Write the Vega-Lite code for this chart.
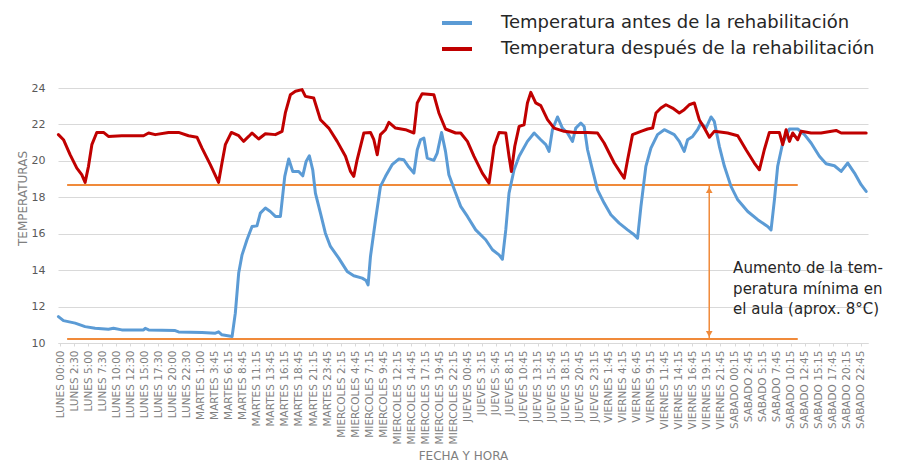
{
  "$schema": "https://vega.github.io/schema/vega-lite/v6.json",
  "width": 810,
  "height": 255,
  "autosize": {"type": "none"},
  "padding": {"left": 58, "top": 88, "right": 35, "bottom": 125},
  "background": "white",
  "config": {"view": {"stroke": null}, "font": "DejaVu Sans"},
  "datasets": {
    "antes": [
      {"pos": -0.12, "temp": 11.45}, {"pos": 0.24, "temp": 11.23}, {"pos": 1.07, "temp": 11.09}, {"pos": 1.78, "temp": 10.9},
      {"pos": 2.49, "temp": 10.81}, {"pos": 3.44, "temp": 10.76}, {"pos": 3.8, "temp": 10.81}, {"pos": 4.39, "temp": 10.72},
      {"pos": 5.94, "temp": 10.72}, {"pos": 6.06, "temp": 10.81}, {"pos": 6.3, "temp": 10.72}, {"pos": 8.19, "temp": 10.68},
      {"pos": 8.43, "temp": 10.61}, {"pos": 10.1, "temp": 10.57}, {"pos": 11.05, "temp": 10.54}, {"pos": 11.28, "temp": 10.61},
      {"pos": 11.52, "temp": 10.45}, {"pos": 12.24, "temp": 10.36}, {"pos": 12.47, "temp": 11.64}, {"pos": 12.71, "temp": 13.84},
      {"pos": 12.95, "temp": 14.84}, {"pos": 13.3, "temp": 15.67}, {"pos": 13.66, "temp": 16.4}, {"pos": 14.01, "temp": 16.43},
      {"pos": 14.25, "temp": 17.13}, {"pos": 14.61, "temp": 17.41}, {"pos": 14.96, "temp": 17.22}, {"pos": 15.32, "temp": 16.95},
      {"pos": 15.68, "temp": 16.95}, {"pos": 15.99, "temp": 19.15}, {"pos": 16.27, "temp": 20.1}, {"pos": 16.56, "temp": 19.42},
      {"pos": 16.98, "temp": 19.42}, {"pos": 17.27, "temp": 19.18}, {"pos": 17.51, "temp": 19.97}, {"pos": 17.74, "temp": 20.28},
      {"pos": 17.98, "temp": 19.51}, {"pos": 18.17, "temp": 18.23}, {"pos": 18.53, "temp": 17.13}, {"pos": 18.88, "temp": 16.03},
      {"pos": 19.24, "temp": 15.3}, {"pos": 19.83, "temp": 14.66}, {"pos": 20.43, "temp": 13.93}, {"pos": 20.9, "temp": 13.69},
      {"pos": 21.5, "temp": 13.56}, {"pos": 21.78, "temp": 13.43}, {"pos": 21.92, "temp": 13.19}, {"pos": 22.09, "temp": 14.75},
      {"pos": 22.45, "temp": 16.77}, {"pos": 22.8, "temp": 18.6}, {"pos": 23.16, "temp": 19.15}, {"pos": 23.63, "temp": 19.79},
      {"pos": 24.1, "temp": 20.1}, {"pos": 24.46, "temp": 20.06}, {"pos": 24.82, "temp": 19.66}, {"pos": 25.18, "temp": 19.33},
      {"pos": 25.42, "temp": 20.61}, {"pos": 25.65, "temp": 21.16}, {"pos": 25.89, "temp": 21.25}, {"pos": 26.13, "temp": 20.15},
      {"pos": 26.6, "temp": 20.03}, {"pos": 26.84, "temp": 20.43}, {"pos": 27.15, "temp": 21.56}, {"pos": 27.43, "temp": 20.52},
      {"pos": 27.67, "temp": 19.24}, {"pos": 28.15, "temp": 18.23}, {"pos": 28.51, "temp": 17.5}, {"pos": 28.99, "temp": 16.95},
      {"pos": 29.58, "temp": 16.21}, {"pos": 30.29, "temp": 15.67}, {"pos": 30.77, "temp": 15.12}, {"pos": 31.24, "temp": 14.84},
      {"pos": 31.48, "temp": 14.6}, {"pos": 31.72, "temp": 16.21}, {"pos": 31.95, "temp": 18.23}, {"pos": 32.31, "temp": 19.51},
      {"pos": 32.67, "temp": 20.25}, {"pos": 33.26, "temp": 21.07}, {"pos": 33.74, "temp": 21.53}, {"pos": 34.21, "temp": 21.16},
      {"pos": 34.57, "temp": 20.89}, {"pos": 34.8, "temp": 20.52}, {"pos": 35.04, "temp": 21.71}, {"pos": 35.4, "temp": 22.41},
      {"pos": 35.75, "temp": 21.8}, {"pos": 36.11, "temp": 21.53}, {"pos": 36.47, "temp": 21.07}, {"pos": 36.7, "temp": 21.8},
      {"pos": 37.06, "temp": 22.08}, {"pos": 37.3, "temp": 21.89}, {"pos": 37.54, "temp": 20.61}, {"pos": 37.89, "temp": 19.51},
      {"pos": 38.25, "temp": 18.41}, {"pos": 38.72, "temp": 17.68}, {"pos": 39.2, "temp": 17.04}, {"pos": 39.79, "temp": 16.58},
      {"pos": 40.39, "temp": 16.21}, {"pos": 40.86, "temp": 15.94}, {"pos": 41.1, "temp": 15.76}, {"pos": 41.34, "temp": 17.5},
      {"pos": 41.69, "temp": 19.7}, {"pos": 42.05, "temp": 20.7}, {"pos": 42.52, "temp": 21.44}, {"pos": 43.0, "temp": 21.71},
      {"pos": 43.71, "temp": 21.44}, {"pos": 44.07, "temp": 21.07}, {"pos": 44.42, "temp": 20.52}, {"pos": 44.66, "temp": 21.16},
      {"pos": 45.02, "temp": 21.34}, {"pos": 45.37, "temp": 21.71}, {"pos": 45.61, "temp": 22.08}, {"pos": 45.97, "temp": 21.8},
      {"pos": 46.33, "temp": 22.41}, {"pos": 46.56, "temp": 22.17}, {"pos": 46.92, "temp": 20.8}, {"pos": 47.28, "temp": 19.7},
      {"pos": 47.75, "temp": 18.6}, {"pos": 48.23, "temp": 17.86}, {"pos": 48.94, "temp": 17.22}, {"pos": 49.65, "temp": 16.77},
      {"pos": 50.36, "temp": 16.4}, {"pos": 50.6, "temp": 16.21}, {"pos": 50.84, "temp": 17.86}, {"pos": 51.07, "temp": 19.7},
      {"pos": 51.43, "temp": 20.98}, {"pos": 51.91, "temp": 21.75}, {"pos": 52.5, "temp": 21.75}, {"pos": 52.98, "temp": 21.44},
      {"pos": 53.45, "temp": 20.98}, {"pos": 54.04, "temp": 20.25}, {"pos": 54.52, "temp": 19.84}, {"pos": 55.11, "temp": 19.73},
      {"pos": 55.59, "temp": 19.42}, {"pos": 56.06, "temp": 19.88}, {"pos": 56.54, "temp": 19.33}, {"pos": 57.01, "temp": 18.69},
      {"pos": 57.37, "temp": 18.32}
    ],
    "despues": [
      {"pos": -0.12, "temp": 21.44}, {"pos": 0.24, "temp": 21.16}, {"pos": 0.71, "temp": 20.34}, {"pos": 1.19, "temp": 19.6},
      {"pos": 1.54, "temp": 19.24}, {"pos": 1.78, "temp": 18.82}, {"pos": 2.02, "temp": 19.7}, {"pos": 2.26, "temp": 20.89},
      {"pos": 2.61, "temp": 21.56}, {"pos": 3.09, "temp": 21.56}, {"pos": 3.44, "temp": 21.34}, {"pos": 4.39, "temp": 21.38},
      {"pos": 5.94, "temp": 21.38}, {"pos": 6.3, "temp": 21.53}, {"pos": 6.77, "temp": 21.44}, {"pos": 7.72, "temp": 21.56},
      {"pos": 8.43, "temp": 21.56}, {"pos": 9.14, "temp": 21.38}, {"pos": 9.74, "temp": 21.3}, {"pos": 10.1, "temp": 20.7},
      {"pos": 10.69, "temp": 19.79}, {"pos": 11.28, "temp": 18.82}, {"pos": 11.52, "temp": 19.88}, {"pos": 11.76, "temp": 20.89},
      {"pos": 12.19, "temp": 21.56}, {"pos": 12.71, "temp": 21.38}, {"pos": 13.06, "temp": 21.07}, {"pos": 13.42, "temp": 21.34},
      {"pos": 13.66, "temp": 21.53}, {"pos": 14.13, "temp": 21.2}, {"pos": 14.61, "temp": 21.49}, {"pos": 15.32, "temp": 21.44},
      {"pos": 15.8, "temp": 21.62}, {"pos": 16.03, "temp": 22.63}, {"pos": 16.39, "temp": 23.63}, {"pos": 16.75, "temp": 23.82},
      {"pos": 17.22, "temp": 23.91}, {"pos": 17.46, "temp": 23.54}, {"pos": 18.05, "temp": 23.45}, {"pos": 18.53, "temp": 22.26},
      {"pos": 19.12, "temp": 21.8}, {"pos": 19.72, "temp": 21.07}, {"pos": 20.31, "temp": 20.25}, {"pos": 20.67, "temp": 19.42},
      {"pos": 20.9, "temp": 19.15}, {"pos": 21.14, "temp": 20.06}, {"pos": 21.62, "temp": 21.53}, {"pos": 22.09, "temp": 21.56},
      {"pos": 22.33, "temp": 21.16}, {"pos": 22.57, "temp": 20.34}, {"pos": 22.8, "temp": 21.44}, {"pos": 23.16, "temp": 21.71},
      {"pos": 23.4, "temp": 22.11}, {"pos": 23.87, "temp": 21.8}, {"pos": 24.58, "temp": 21.71}, {"pos": 25.18, "temp": 21.53},
      {"pos": 25.42, "temp": 23.18}, {"pos": 25.77, "temp": 23.69}, {"pos": 26.6, "temp": 23.63}, {"pos": 26.96, "temp": 22.63},
      {"pos": 27.43, "temp": 21.75}, {"pos": 28.15, "temp": 21.53}, {"pos": 28.51, "temp": 21.53}, {"pos": 28.99, "temp": 21.07},
      {"pos": 29.46, "temp": 20.25}, {"pos": 30.05, "temp": 19.33}, {"pos": 30.53, "temp": 18.78}, {"pos": 30.89, "temp": 20.8},
      {"pos": 31.24, "temp": 21.56}, {"pos": 31.72, "temp": 21.53}, {"pos": 31.95, "temp": 20.25}, {"pos": 32.12, "temp": 19.42},
      {"pos": 32.36, "temp": 20.8}, {"pos": 32.67, "temp": 21.89}, {"pos": 33.02, "temp": 21.98}, {"pos": 33.26, "temp": 23.18},
      {"pos": 33.5, "temp": 23.76}, {"pos": 33.85, "temp": 23.18}, {"pos": 34.21, "temp": 23.03}, {"pos": 34.69, "temp": 22.26},
      {"pos": 35.16, "temp": 21.8}, {"pos": 35.87, "temp": 21.62}, {"pos": 36.59, "temp": 21.56}, {"pos": 37.54, "temp": 21.56},
      {"pos": 38.25, "temp": 21.53}, {"pos": 38.72, "temp": 20.98}, {"pos": 39.44, "temp": 19.88}, {"pos": 39.91, "temp": 19.33},
      {"pos": 40.15, "temp": 19.05}, {"pos": 40.39, "temp": 20.06}, {"pos": 40.74, "temp": 21.44}, {"pos": 41.34, "temp": 21.62},
      {"pos": 41.81, "temp": 21.75}, {"pos": 42.17, "temp": 21.8}, {"pos": 42.41, "temp": 22.63}, {"pos": 42.76, "temp": 22.9},
      {"pos": 43.12, "temp": 23.08}, {"pos": 43.59, "temp": 22.9}, {"pos": 44.07, "temp": 22.63}, {"pos": 44.42, "temp": 22.81},
      {"pos": 44.78, "temp": 23.08}, {"pos": 45.14, "temp": 23.18}, {"pos": 45.49, "temp": 22.26}, {"pos": 45.85, "temp": 21.8},
      {"pos": 46.21, "temp": 21.3}, {"pos": 46.56, "temp": 21.62}, {"pos": 47.51, "temp": 21.53}, {"pos": 48.23, "temp": 21.38},
      {"pos": 48.82, "temp": 20.61}, {"pos": 49.41, "temp": 19.88}, {"pos": 49.77, "temp": 19.51}, {"pos": 50.12, "temp": 20.61},
      {"pos": 50.48, "temp": 21.56}, {"pos": 51.19, "temp": 21.56}, {"pos": 51.43, "temp": 20.89}, {"pos": 51.67, "temp": 21.71},
      {"pos": 51.91, "temp": 21.07}, {"pos": 52.14, "temp": 21.53}, {"pos": 52.5, "temp": 21.16}, {"pos": 52.74, "temp": 21.62},
      {"pos": 53.45, "temp": 21.53}, {"pos": 54.16, "temp": 21.53}, {"pos": 55.23, "temp": 21.67}, {"pos": 55.59, "temp": 21.53},
      {"pos": 56.54, "temp": 21.53}, {"pos": 57.37, "temp": 21.53}
    ],
    "limites": [
      {"desde": 0.5, "hasta": 52.5, "temp": 18.67},
      {"desde": 0.5, "hasta": 52.5, "temp": 10.22}
    ],
    "flecha": [
      {"pos": 46.2, "min": 10.22, "max": 18.67}
    ],
    "nota": [
      {"pos": 47.9, "temp": 14.11, "texto": "Aumento de la tem-"},
      {"pos": 47.9, "temp": 12.99, "texto": "peratura mínima en"},
      {"pos": 47.9, "temp": 11.89, "texto": "el aula (aprox. 8°C)"}
    ]
  },
  "encoding": {
    "x": {
      "field": "pos",
      "type": "quantitative",
      "scale": {"domain": [-0.15, 57.5], "nice": false, "zero": false},
      "axis": {
        "title": "FECHA Y HORA",
        "titleFont": "DejaVu Sans",
        "titleFontSize": 12,
        "titleFontWeight": "normal",
        "titleColor": "#7f7f7f",
        "titlePadding": 7,
        "values": [0,1,2,3,4,5,6,7,8,9,10,11,12,13,14,15,16,17,18,19,20,21,22,23,24,25,26,27,28,29,30,31,32,33,34,35,36,37,38,39,40,41,42,43,44,45,46,47,48,49,50,51,52,53,54,55,56,57],
        "labelExpr": "['LUNES 00:00','LUNES 2:30','LUNES 5:00','LUNES 7:30','LUNES 10:00','LUNES 12:30','LUNES 15:00','LUNES 17:30','LUNES 20:00','LUNES 22:30','MARTES 1:00','MARTES 3:45','MARTES 6:15','MARTES 8:45','MARTES 11:15','MARTES 13:45','MARTES 16:15','MARTES 18:45','MARTES 21:15','MARTES 23:45','MIERCOLES 2:15','MIERCOLES 4:45','MIERCOLES 7:15','MIERCOLES 9:45','MIERCOLES 12:15','MIERCOLES 14:45','MIERCOLES 17:15','MIERCOLES 19:45','MIERCOLES 22:15','JUEVES 00:45','JUEVES 3:15','JUEVES 5:45','JUEVES 8:15','JUEVES 10:45','JUEVES 13:15','JUEVES 15:45','JUEVES 18:15','JUEVES 20:45','JUEVES 23:15','VIERNES 1:45','VIERNES 4:15','VIERNES 6:45','VIERNES 9:15','VIERNES 11:45','VIERNES 14:15','VIERNES 16:45','VIERNES 19:15','VIERNES 21:45','SABADO 00:15','SABADO 2:45','SABADO 5:15','SABADO 7:45','SABADO 10:15','SABADO 12:45','SABADO 15:15','SABADO 17:45','SABADO 20:15','SABADO 22:45'][datum.value]",
        "labelAngle": -90,
        "labelFont": "DejaVu Sans",
        "labelFontSize": 10.5,
        "labelColor": "#7f7f7f",
        "labelPadding": 4,
        "labelOverlap": false,
        "labelBound": false,
        "labelFlush": false,
        "grid": false,
        "ticks": true,
        "tickSize": 3,
        "tickColor": "#d9d9d9",
        "domainColor": "#d9d9d9",
        "domainWidth": 1
      }
    },
    "y": {
      "field": "temp",
      "type": "quantitative",
      "scale": {"domain": [10, 24], "nice": false, "zero": false},
      "axis": {
        "title": "TEMPERATURAS",
        "titleFont": "DejaVu Sans",
        "titleFontSize": 12,
        "titleFontWeight": "normal",
        "titleColor": "#7f7f7f",
        "titleX": -29,
        "titleY": 110,
        "values": [10, 12, 14, 16, 18, 20, 22, 24],
        "labelFont": "DejaVu Sans",
        "labelFontSize": 11,
        "labelColor": "#595959",
        "labelPadding": 13,
        "ticks": false,
        "domain": false,
        "grid": true,
        "gridColor": "#d9d9d9",
        "gridWidth": 1
      }
    }
  },
  "layer": [
    {
      "data": {"name": "limites"},
      "mark": {"type": "rule", "color": "#F08A3A", "strokeWidth": 2},
      "encoding": {
        "x": {"field": "desde", "type": "quantitative"},
        "x2": {"field": "hasta"},
        "y": {"field": "temp", "type": "quantitative"}
      }
    },
    {
      "data": {"name": "antes"},
      "mark": {"type": "line", "strokeWidth": 3, "strokeJoin": "round", "strokeCap": "round"},
      "encoding": {
        "color": {
          "datum": "Temperatura antes de la rehabilitación",
          "type": "nominal",
          "scale": {
            "domain": ["Temperatura antes de la rehabilitación", "Temperatura después de la rehabilitación"],
            "range": ["#5B9BD5", "#C00000"]
          },
          "legend": {
            "title": null,
            "orient": "none",
            "legendX": 382,
            "legendY": -82,
            "symbolType": "stroke",
            "symbolSize": 900,
            "symbolStrokeWidth": 4,
            "labelFont": "DejaVu Sans",
            "labelFontSize": 18,
            "labelColor": "#262626",
            "labelOffset": 27,
            "labelLimit": 500,
            "rowPadding": 0
          }
        }
      }
    },
    {
      "data": {"name": "despues"},
      "mark": {"type": "line", "strokeWidth": 3, "strokeJoin": "round", "strokeCap": "round"},
      "encoding": {
        "color": {"datum": "Temperatura después de la rehabilitación", "type": "nominal"}
      }
    },
    {
      "data": {"name": "flecha"},
      "mark": {"type": "rule", "color": "#F08A3A", "strokeWidth": 1.5},
      "encoding": {
        "x": {"field": "pos", "type": "quantitative"},
        "y": {"field": "min", "type": "quantitative"},
        "y2": {"field": "max"}
      }
    },
    {
      "data": {"name": "flecha"},
      "mark": {"type": "point", "shape": "triangle-up", "filled": true, "color": "#F08A3A", "size": 45, "opacity": 1, "yOffset": 5},
      "encoding": {
        "x": {"field": "pos", "type": "quantitative"},
        "y": {"field": "max", "type": "quantitative"}
      }
    },
    {
      "data": {"name": "flecha"},
      "mark": {"type": "point", "shape": "triangle-down", "filled": true, "color": "#F08A3A", "size": 45, "opacity": 1, "yOffset": -5},
      "encoding": {
        "x": {"field": "pos", "type": "quantitative"},
        "y": {"field": "min", "type": "quantitative"}
      }
    },
    {
      "data": {"name": "nota"},
      "mark": {"type": "text", "align": "left", "baseline": "middle", "font": "DejaVu Sans", "fontSize": 15, "color": "#262626"},
      "encoding": {
        "x": {"field": "pos", "type": "quantitative"},
        "y": {"field": "temp", "type": "quantitative"},
        "text": {"field": "texto"}
      }
    }
  ]
}
